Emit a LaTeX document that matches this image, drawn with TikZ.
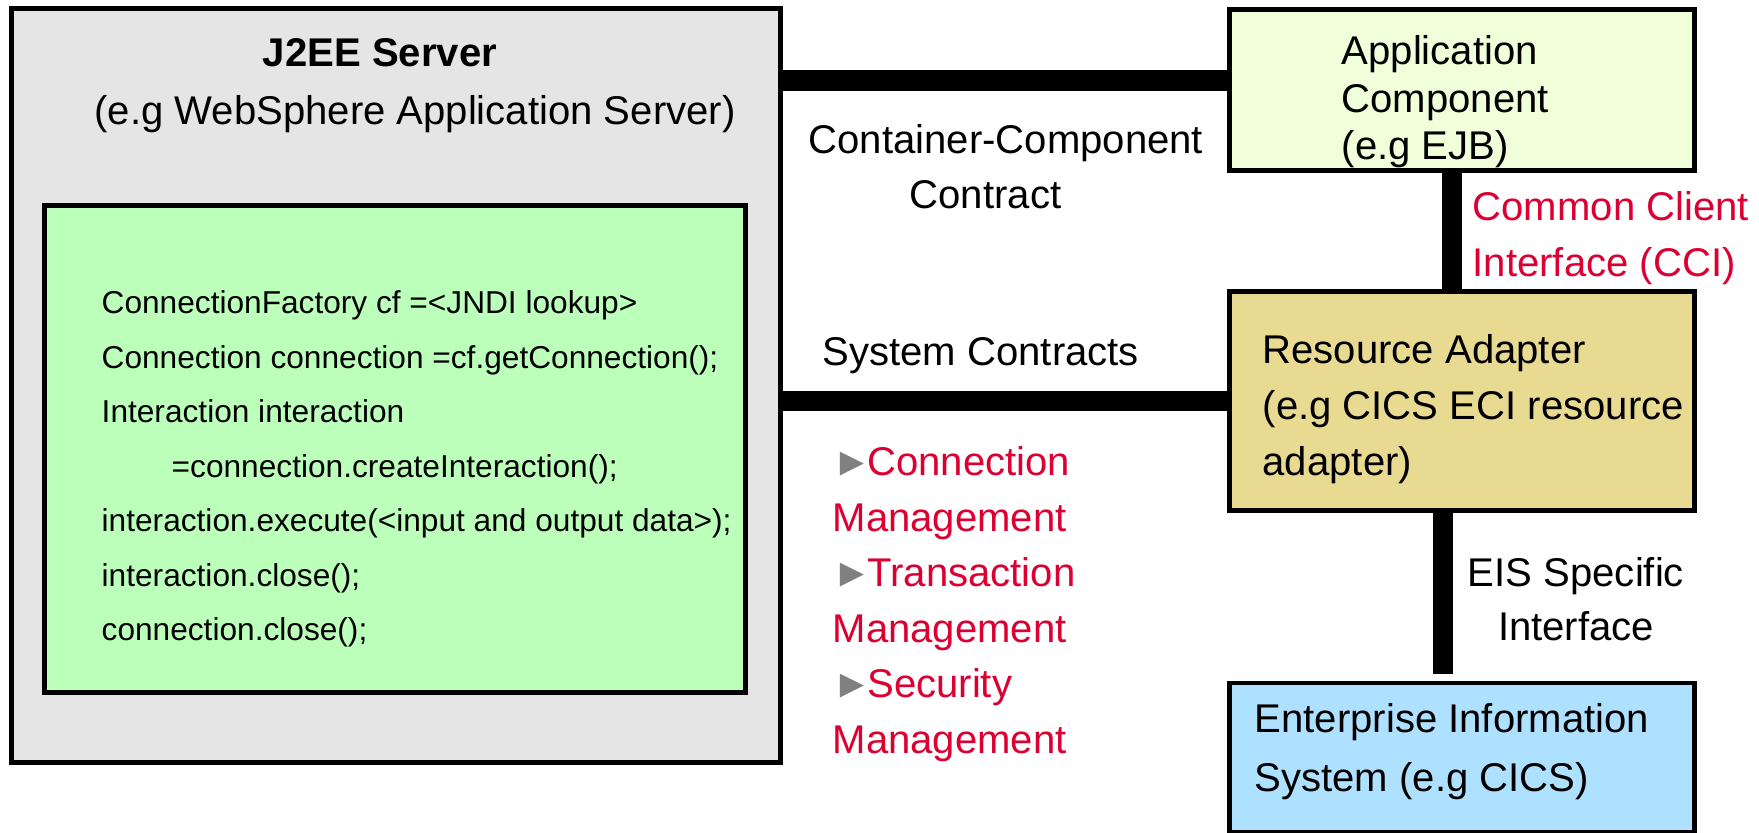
\documentclass[tikz,border=0pt]{standalone}
\usepackage{fontspec}
\setmainfont{Liberation Sans}

\definecolor{servergray}{RGB}{229,229,229}
\definecolor{codegreen}{RGB}{187,255,187}
\definecolor{appgreen}{RGB}{240,255,218}
\definecolor{adaptertan}{RGB}{232,218,144}
\definecolor{eisblue}{RGB}{174,224,255}
\definecolor{contractred}{RGB}{220,0,50}

\newcommand{\bul}{{\fontsize{11.4}{11.4}\selectfont\textcolor{gray}{►}}\hspace{-0.05cm}}

\tikzset{
  box/.style={draw, line width=1.4pt, inner sep=0pt},
  bar/.style={line width=5.95pt},
  txt/.style={inner sep=0pt, align=left, font=\fontsize{11.4}{15.6}\selectfont},
  codetxt/.style={inner sep=0pt, align=left, font=\fontsize{9}{15.5}\selectfont},
}

\begin{document}
\begin{tikzpicture}[x=0.01cm,y=-0.01cm]
\useasboundingbox (0,0) rectangle (1759,833);

% server and the code inside it
\node[box, fill=servergray, minimum width=7.68cm, minimum height=7.53cm] (server) at (396,385.5) {};
\node[box, fill=codegreen, minimum width=7.00cm, minimum height=4.86cm] (code) at (395,449) {};
\node[txt, font=\fontsize{11.4}{14}\selectfont\bfseries] (srvname) at (380,53) {J2EE Server};
\node[txt] (srvnote) at (415,114) {(e.g WebSphere Application Server)};
\node[codetxt, anchor=west] (codelines) at (101,469) {%
ConnectionFactory cf =<JNDI lookup>\\
Connection connection =cf.getConnection();\\
Interaction interaction\\
\hspace*{0.7cm}=connection.createInteraction();\\
interaction.execute(<input and output data>);\\
interaction.close();\\
connection.close();};

% boxes on the right
\node[box, fill=appgreen, minimum width=4.64cm, minimum height=1.605cm] (app) at (1462,90) {};
\node[box, fill=adaptertan, minimum width=4.64cm, minimum height=2.18cm] (ra) at (1462,401) {};
\node[box, fill=eisblue, minimum width=4.64cm, minimum height=1.49cm] (eis) at (1462,757.5) {};

\node[txt, anchor=west, font=\fontsize{11.4}{13.5}\selectfont] (apptxt) at (1341,102) {Application\\Component\\(e.g EJB)};
\node[txt, anchor=west, font=\fontsize{11.4}{15.9}\selectfont] (ratxt) at (1262,409) {Resource Adapter\\(e.g CICS ECI resource\\adapter)};
\node[txt, anchor=west, font=\fontsize{11.4}{16.8}\selectfont] (eistxt) at (1254,752) {Enterprise Information\\System (e.g CICS)};

% contracts
\coordinate (ccp) at ([yshift=0.095cm]app.west);
\draw[bar] (ccp) -- (ccp -| server.east);
\draw[bar] (ra.west) -- (ra.west -| server.east);
\draw[bar] ([xshift=-0.1cm]app.south) -- ([xshift=-0.1cm]ra.north);
\draw[bar] ([xshift=-0.19cm]ra.south) -- ([xshift=-0.19cm,yshift=0.065cm]eis.north);

\node[txt, anchor=west] (cclabel) at (808,166.5) {Container-Component\\\hspace*{1.01cm}Contract};
\node[txt, anchor=west] (syslabel) at (822,356) {System Contracts};
\node[txt, anchor=west, text=contractred, font=\fontsize{11.4}{15.8}\selectfont] (mgmt) at (832,604) {%
\bul Connection\\Management\\\bul Transaction\\Management\\\bul Security\\Management};
\node[txt, anchor=west, text=contractred, font=\fontsize{11.4}{15.9}\selectfont] (ccilabel) at (1472,238) {Common Client\\Interface (CCI)};
\node[txt, align=center, font=\fontsize{11.4}{15.3}\selectfont] (eislabel) at (1576,599) {EIS Specific\\Interface};
\end{tikzpicture}
\end{document}
